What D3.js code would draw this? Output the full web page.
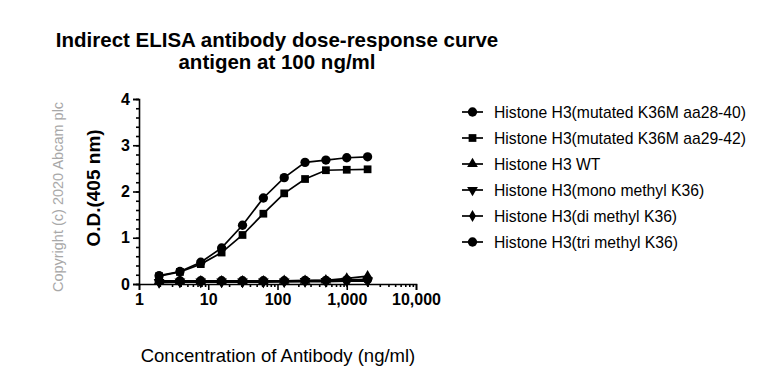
<!DOCTYPE html>
<html>
<head>
<meta charset="utf-8">
<script src="https://cdn.jsdelivr.net/npm/d3@7"></script>
<style>
  body { margin: 0; background: #fff; }
  svg { font-family: "Liberation Sans", Arial, sans-serif; }
</style>
</head>
<body>
<div id="chart"></div>
<script>
// concentrations (ng/ml), 2-fold serial dilution
const conc = [1.95, 3.9, 7.8, 15.6, 31.25, 62.5, 125, 250, 500, 1000, 2000];

const k36mA = [0.18, 0.27, 0.47, 0.78, 1.27, 1.86, 2.30, 2.63, 2.68, 2.73, 2.75];
const k36mB = [0.17, 0.26, 0.43, 0.68, 1.06, 1.52, 1.96, 2.27, 2.46, 2.47, 2.48];
const wt    = [0.06, 0.06, 0.06, 0.06, 0.06, 0.06, 0.07, 0.07, 0.08, 0.12, 0.17];
const mono  = [0.04, 0.05, 0.05, 0.05, 0.05, 0.05, 0.05, 0.06, 0.06, 0.07, 0.08];
const di    = [0.03, 0.04, 0.04, 0.04, 0.04, 0.04, 0.05, 0.05, 0.05, 0.06, 0.06];
const tri   = [0.07, 0.07, 0.07, 0.07, 0.07, 0.07, 0.07, 0.08, 0.08, 0.09, 0.10];

const seriesNames = [
  "Histone H3(mutated K36M aa28-40)",
  "Histone H3(mutated K36M aa29-42)",
  "Histone H3 WT",
  "Histone H3(mono methyl K36)",
  "Histone H3(di methyl K36)",
  "Histone H3(tri methyl K36)"
];
const seriesValues = [k36mA, k36mB, wt, mono, di, tri];
const seriesSymbols = ["circle", "square", "triangle", "down", "diamond", "circle"];

const xTicks = [1, 10, 100, 1000, 10000];
const yTicks = [0, 1, 2, 3, 4];

const width = 768, height = 381;
const svg = d3.select("#chart").append("svg")
  .attr("width", width).attr("height", height);

const x = d3.scaleLog().domain([1, 10000]).range([139, 416]);
const y = d3.scaleLinear().domain([0, 4]).range([284, 99]);

// title
svg.append("text").attr("x", 277).attr("y", 47).attr("text-anchor", "middle")
  .style("font-size", "20.5px").style("font-weight", "bold")
  .text("Indirect ELISA antibody dose-response curve");
svg.append("text").attr("x", 277).attr("y", 69).attr("text-anchor", "middle")
  .style("font-size", "20.5px").style("font-weight", "bold")
  .text("antigen at 100 ng/ml");

// copyright
svg.append("text").attr("transform", "translate(63,197) rotate(-90)")
  .attr("text-anchor", "middle").style("font-size", "14.5px").attr("fill", "#a8a8a8")
  .text("Copyright (c) 2020 Abcam plc");

// y label
svg.append("text").attr("transform", "translate(100,188) rotate(-90)")
  .attr("text-anchor", "middle").style("font-size", "19px").style("font-weight", "bold")
  .text("O.D.(405 nm)");

// x label
svg.append("text").attr("x", 278).attr("y", 362).attr("text-anchor", "middle")
  .style("font-size", "18.5px").text("Concentration of Antibody (ng/ml)");

// y axis
const yMinor = d3.range(0, 4.01, 0.2);
const yAxis = svg.append("g").attr("transform", "translate(139,0)");
yAxis.call(d3.axisLeft(y).tickValues(yMinor).tickSize(3).tickFormat(""));
yAxis.call(g => g.select(".domain").remove());
const yMajor = svg.append("g").attr("transform", "translate(139,0)")
  .call(d3.axisLeft(y).tickValues(yTicks).tickSize(6).tickPadding(3).tickFormat(d3.format("d")));
yMajor.selectAll("text").style("font-size", "16px").style("font-weight", "bold")
  .attr("fill", "#000").style("font-family", "Liberation Sans, Arial, sans-serif");

// x axis
const xMinor = [];
for (let dec = 1; dec < 10000; dec *= 10)
  for (let k = 2; k <= 9; k++) xMinor.push(dec * k);
const xAxis = svg.append("g").attr("transform", "translate(0,284)");
xAxis.call(d3.axisBottom(x).tickValues(xMinor).tickSize(3).tickFormat(""));
xAxis.call(g => g.select(".domain").remove());
const xMajor = svg.append("g").attr("transform", "translate(0,284)")
  .call(d3.axisBottom(x).tickValues(xTicks).tickSize(6).tickPadding(4).tickFormat(d3.format(",")));
xMajor.selectAll("text").style("font-size", "16px").style("font-weight", "bold")
  .attr("fill", "#000").style("font-family", "Liberation Sans, Arial, sans-serif");

svg.selectAll(".domain, .tick line").attr("stroke", "#000").attr("stroke-width", 1.6);

// symbol helper
function symbolPath(kind) {
  if (kind === "circle") return d3.symbol(d3.symbolCircle, 68)();
  if (kind === "square") return d3.symbol(d3.symbolSquare, 60)();
  if (kind === "triangle") return d3.symbol(d3.symbolTriangle, 50)();
  if (kind === "down") return d3.symbol(d3.symbolTriangle, 50)();
  if (kind === "diamond") return d3.symbol(d3.symbolDiamond, 42)();
}
function symbolTransform(kind, px, py) {
  return kind === "down" ? `translate(${px},${py}) rotate(180)` : `translate(${px},${py})`;
}

const line = d3.line().x((d, i) => x(conc[i])).y(d => y(d));

// draw low series first, then the high ones on top
const order = [5, 4, 3, 2, 1, 0];
order.forEach(s => {
  const vals = seriesValues[s];
  const g = svg.append("g");
  g.append("path").attr("d", line(vals)).attr("fill", "none")
    .attr("stroke", "#000").attr("stroke-width", 1.7);
  g.selectAll("path.pt").data(vals).enter().append("path").attr("class", "pt")
    .attr("d", symbolPath(seriesSymbols[s]))
    .attr("transform", (d, i) => symbolTransform(seriesSymbols[s], x(conc[i]), y(d)))
    .attr("fill", "#000");
});

// legend
const legend = svg.append("g");
seriesNames.forEach((name, i) => {
  const ly = 112 + i * 26;
  legend.append("line").attr("x1", 462).attr("x2", 483).attr("y1", ly).attr("y2", ly)
    .attr("stroke", "#000").attr("stroke-width", 1.7);
  legend.append("path").attr("d", symbolPath(seriesSymbols[i]))
    .attr("transform", symbolTransform(seriesSymbols[i], 472.5, ly)).attr("fill", "#000");
  legend.append("text").attr("x", 494).attr("y", ly + 5.5)
    .style("font-size", "15.7px").text(name);
});
</script>
</body>
</html>
